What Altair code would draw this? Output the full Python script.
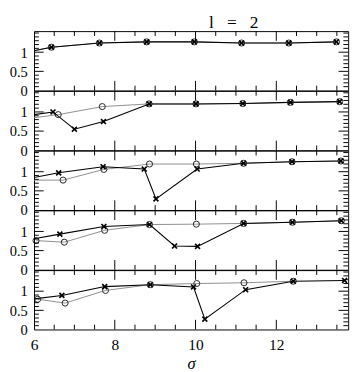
import altair as alt
import pandas as pd

# ---- data (sigma positions and values) ----
# first entry of each line series is where the line enters at the left edge (sigma = 6)
# panel 1: both series coincide
p1_x = [6.00, 6.43, 7.62, 8.79, 9.97, 11.14, 12.31, 13.49]
p1_y = [1.04, 1.13, 1.24, 1.27, 1.27, 1.24, 1.24, 1.27]

# panel 2
p2_cross_x = [6.00, 6.47, 7.00, 7.72, 8.85, 10.01, 11.17, 12.35, 13.57]
p2_cross_y = [0.93, 1.00, 0.55, 0.75, 1.21, 1.21, 1.22, 1.25, 1.27]
p2_circ_x = [6.00, 6.60, 7.69, 8.85, 10.01, 11.17, 12.35, 13.57]
p2_circ_y = [0.85, 0.93, 1.14, 1.21, 1.21, 1.22, 1.25, 1.27]

# panel 3
p3_cross_x = [6.00, 6.61, 7.71, 8.73, 9.02, 10.04, 11.19, 12.39, 13.60]
p3_cross_y = [0.85, 0.97, 1.13, 1.07, 0.29, 1.07, 1.22, 1.26, 1.28]
p3_circ_x = [6.00, 6.72, 7.73, 8.86, 10.02, 11.19, 12.39, 13.60]
p3_circ_y = [0.78, 0.78, 1.06, 1.20, 1.20, 1.22, 1.26, 1.28]

# panel 4
p4_cross_x = [6.00, 6.64, 7.73, 8.86, 9.48, 10.05, 11.19, 12.40, 13.61]
p4_cross_y = [0.81, 0.93, 1.13, 1.18, 0.62, 0.61, 1.21, 1.24, 1.28]
p4_circ_x = [6.05, 6.75, 7.75, 8.86, 10.02, 11.19, 12.40, 13.61]
p4_circ_y = [0.76, 0.72, 1.03, 1.18, 1.19, 1.21, 1.24, 1.28]

# panel 5
p5_cross_x = [6.00, 6.69, 7.75, 8.88, 9.95, 10.23, 11.24, 12.42, 13.69]
p5_cross_y = [0.80, 0.89, 1.12, 1.17, 1.11, 0.27, 1.04, 1.26, 1.28]
p5_circ_x = [6.09, 6.77, 7.77, 8.88, 10.03, 11.20, 12.42]
p5_circ_y = [0.79, 0.69, 1.02, 1.17, 1.20, 1.22, 1.26]

# axis ticks
x_labels = [6, 8, 10, 12]
x_major_ticks = [8, 10, 12]
x_minor_ticks = [6.5, 7, 7.5, 8.5, 9, 9.5, 10.5, 11, 11.5, 12.5, 13, 13.5]
y_labels = [0, 0.5, 1]
y_major_ticks = [0.5, 1.0]
y_minor_ticks = [0.1, 0.2, 0.3, 0.4, 0.6, 0.7, 0.8, 0.9, 1.1, 1.2, 1.3, 1.4, 1.5]

W = 326
H = 61.6
FONT = "Liberation Serif"
XPATH = "M-1,-1L1,1M1,-1L-1,1"

xs = alt.Scale(domain=[6, 13.78], nice=False, zero=False)
ys = alt.Scale(domain=[0, 1.55], nice=False, zero=True)


def make_axes(bottom):
    if bottom:
        xaxis = alt.Axis(values=x_labels, format="d", ticks=False, domain=False, grid=False,
                         labels=True, orient="bottom",
                         labelFont=FONT, labelFontSize=16, labelPadding=8, labelFlush=False,
                         labelColor="black", title="σ", titleFont=FONT, titleFontSize=17,
                         titleFontStyle="italic", titleFontWeight="normal", titleColor="black",
                         titlePadding=4)
    else:
        xaxis = None
    yaxis = alt.Axis(values=y_labels, format="~g", ticks=False, domain=False, grid=False,
                     labels=True, orient="left",
                     labelFont=FONT, labelFontSize=15, labelPadding=7, labelFlush=False,
                     labelOverlap=False, labelColor="black", title="")
    return xaxis, yaxis


def tick_layers(xaxis, yaxis):
    layers = []
    for vals, L in ((x_minor_ticks, 5), (x_major_ticks, 10)):
        base = alt.Chart(pd.DataFrame({"sigma": vals})).mark_rule(color="black", strokeWidth=1)
        xe = alt.X("sigma:Q", scale=xs, axis=xaxis)
        layers.append(base.encode(x=xe, y=alt.value(H), y2=alt.value(H - L)))
        layers.append(base.encode(x=xe, y=alt.value(0), y2=alt.value(L)))
    for vals, L in ((y_minor_ticks, 5), (y_major_ticks, 10)):
        base = alt.Chart(pd.DataFrame({"v": vals})).mark_rule(color="black", strokeWidth=1)
        ye = alt.Y("v:Q", scale=ys, axis=yaxis)
        layers.append(base.encode(y=ye, x=alt.value(0), x2=alt.value(L)))
        layers.append(base.encode(y=ye, x=alt.value(W), x2=alt.value(W - L)))
    return layers


def panel(cx, cy, ox, oy, bottom):
    cross_line_df = pd.DataFrame({"sigma": cx, "v": cy})
    circ_line_df = pd.DataFrame({"sigma": ox, "v": oy})
    # markers only for points inside the frame (the edge entry point carries no marker)
    cross_pt_df = cross_line_df[cross_line_df["sigma"] > 6.0]
    circ_pt_df = circ_line_df[circ_line_df["sigma"] > 6.0]
    xaxis, yaxis = make_axes(bottom)
    xe = alt.X("sigma:Q", scale=xs, axis=xaxis)
    ye = alt.Y("v:Q", scale=ys, axis=yaxis)
    circ_line = alt.Chart(circ_line_df).mark_line(color="#8c8c8c", strokeWidth=1).encode(x=xe, y=ye)
    cross_line = alt.Chart(cross_line_df).mark_line(color="black", strokeWidth=1.1).encode(x=xe, y=ye)
    circ_pts = alt.Chart(circ_pt_df).mark_point(shape="circle", filled=False, color="#222222", size=40,
                                                strokeWidth=1, opacity=1).encode(x=xe, y=ye)
    cross_pts = alt.Chart(cross_pt_df).mark_point(shape=XPATH, filled=False, color="black", size=26,
                                                  strokeWidth=1.7, opacity=1).encode(x=xe, y=ye)
    return alt.layer(circ_line, cross_line, circ_pts, cross_pts,
                     *tick_layers(xaxis, yaxis)).properties(width=W, height=H)


panels = [
    panel(p1_x, p1_y, p1_x, p1_y, False),
    panel(p2_cross_x, p2_cross_y, p2_circ_x, p2_circ_y, False),
    panel(p3_cross_x, p3_cross_y, p3_circ_x, p3_circ_y, False),
    panel(p4_cross_x, p4_cross_y, p4_circ_x, p4_circ_y, False),
    panel(p5_cross_x, p5_cross_y, p5_circ_x, p5_circ_y, True),
]

chart = alt.vconcat(*panels, spacing=0, bounds="flush").properties(
    title=alt.Title("l\u00a0\u00a0\u00a0=\u00a0\u00a0\u00a02", font=FONT, fontSize=18, fontWeight="normal",
                    color="black", anchor="middle", dx=56, offset=-2),
    padding={"left": 0, "top": 0, "right": 2, "bottom": 0},
).configure_view(stroke="black", strokeWidth=1).configure_concat(spacing=0).configure_axis(
    labelFont=FONT, titleFont=FONT, labelColor="black", titleColor="black"
)

chart.save("out.html", embed_options={"renderer": "svg", "actions": False})
